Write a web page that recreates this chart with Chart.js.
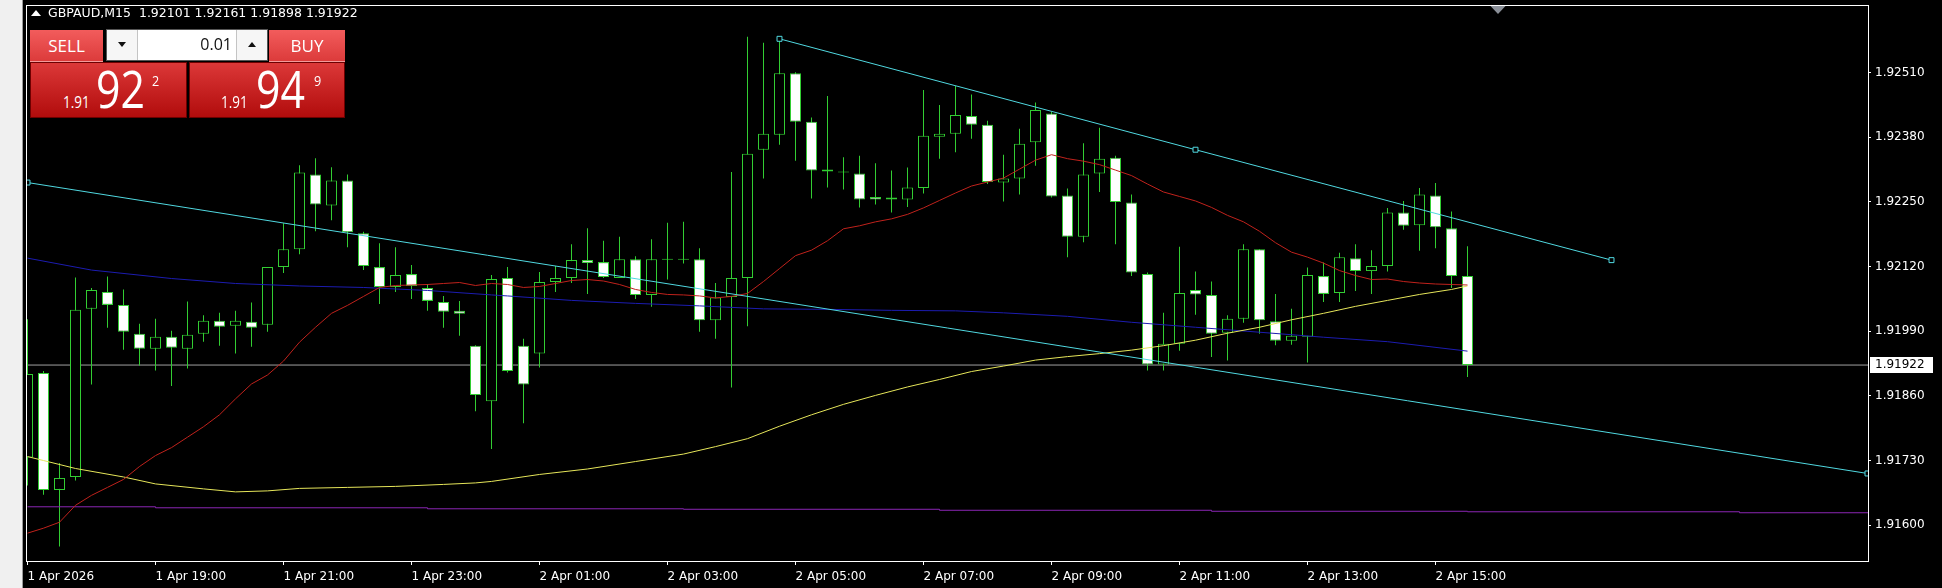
<!DOCTYPE html>
<html>
<head>
<meta charset="utf-8">
<title>GBPAUD,M15</title>
<script src="https://cdn.jsdelivr.net/npm/chart.js@4.4.1/dist/chart.umd.min.js"></script>
<style>
  html, body { margin: 0; padding: 0; background: #000; }
  body { position: relative; width: 1942px; height: 588px; overflow: hidden; }
  #c { position: absolute; left: 0; top: 0; }
  #side { position: absolute; left: 0; top: 0; width: 22px; height: 588px; background: #f0f0f0; border-right: 1px solid #9a9a9a; }
  #hdr { position: absolute; left: 31px; top: 5px; color: #fff; font: 12.5px 'DejaVu Sans', sans-serif; white-space: pre; }
  #hdr .tri { display: inline-block; width: 0; height: 0; border-left: 5px solid transparent; border-right: 5px solid transparent; border-bottom: 6px solid #fff; margin-right: 7px; vertical-align: 1px; }
  .lbl { position: absolute; top: 30px; height: 32px; box-sizing: border-box; background: linear-gradient(#f25c5c, #dc3b3b); border-bottom: 1px solid #f39a9a; color: #fff; font: 17px 'Open Sans', sans-serif; display: flex; align-items: center; justify-content: center; }
  #lot { position: absolute; left: 106px; top: 29px; width: 162px; height: 32px; box-sizing: border-box; background: #fff; border: 1px solid #555; }
  #lot .btn { position: absolute; top: 0; bottom: 0; width: 30px; background: #f6f6f6; }
  #lot .dn { left: 0; border-right: 1px solid #c4c4c4; }
  #lot .up { right: 0; border-left: 1px solid #c4c4c4; }
  #lot .btn i { position: absolute; left: 11px; top: 12px; width: 0; height: 0; border-left: 4px solid transparent; border-right: 4px solid transparent; }
  #lot .dn i { border-top: 5px solid #111; }
  #lot .up i { border-bottom: 5px solid #111; }
  #lot .val { position: absolute; left: 31px; right: 31px; top: 0; bottom: 0; text-align: right; padding-right: 4px; font: 16px 'Open Sans', sans-serif; line-height: 29px; color: #111; }
  .big { position: absolute; top: 62px; height: 56px; box-sizing: border-box; background: linear-gradient(#dc3838, #b10c0c); border: 1px solid #6e0000; color: #fff; font-family: 'Open Sans', sans-serif; }
  .big span { position: absolute; line-height: 1; transform-origin: left top; transform: scaleX(0.84); }
  .big .pre { font-size: 16px; top: 31px; }
  .big .main { font-size: 51px; top: 0px; }
  .big .sup { font-size: 15px; top: 10px; }
</style>
</head>
<body>
<canvas id="c" width="1942" height="588"></canvas>
<div id="side"></div>
<div id="hdr"><span class="tri"></span><span id="hdrText"></span></div>
<div class="lbl" style="left:30px;width:73px">SELL</div>
<div id="lot"><div class="btn dn"><i></i></div><div class="val">0.01</div><div class="btn up"><i></i></div></div>
<div class="lbl" style="left:269px;width:76px">BUY</div>
<div class="big" style="left:30px;width:157px"><span class="pre" style="left:32px">1.91</span><span class="main" style="left:65px">92</span><span class="sup" style="left:121px">2</span></div>
<div class="big" style="left:189px;width:156px"><span class="pre" style="left:31px">1.91</span><span class="main" style="left:66px">94</span><span class="sup" style="left:124px">9</span></div>
<script>
// GBPAUD M15, bar 0 = 1 Apr 17:00, one bar per 15 minutes
const symbol = 'GBPAUD,M15';

const opens = [1.91736, 1.91906, 1.91671, 1.91697, 1.92035, 1.92069, 1.92043, 1.91985, 1.91955, 1.91979,
  1.91955, 1.91985, 1.92011, 1.92001, 1.92009, 1.92003, 1.92119, 1.92155, 1.92305, 1.92243,
  1.92293, 1.92187, 1.92119, 1.92079, 1.92105, 1.92077, 1.92049, 1.92031, 1.91961, 1.91849,
  1.92097, 1.91961, 1.91945, 1.92089, 1.92097, 1.92133, 1.92129, 1.92097, 1.92135, 1.92063,
  1.92134, 1.92135, 1.92135, 1.92012, 1.92059, 1.92097, 1.92355, 1.92385, 1.92509, 1.92411,
  1.92315, 1.92311, 1.92307, 1.92260, 1.92259, 1.92255, 1.92278, 1.92381, 1.92387, 1.92423,
  1.92405, 1.92289, 1.92297, 1.92370, 1.92428, 1.92263, 1.92180, 1.92307, 1.92339, 1.92249,
  1.92105, 1.91923, 1.91965, 1.92073, 1.92063, 1.91987, 1.92015, 1.92155, 1.92010, 1.91971,
  1.91979, 1.92101, 1.92067, 1.92137, 1.92111, 1.92121, 1.92229, 1.92203, 1.92263, 1.92197,
  1.92101];
const highs = [1.92014, 1.91910, 1.91725, 1.92098, 1.92077, 1.92100, 1.92074, 1.92005, 1.92015, 1.91991,
  1.92050, 1.92022, 1.92027, 1.92031, 1.92048, 1.92119, 1.92207, 1.92324, 1.92338, 1.92320,
  1.92305, 1.92190, 1.92167, 1.92159, 1.92123, 1.92085, 1.92061, 1.92051, 1.91962, 1.92103,
  1.92119, 1.91975, 1.92109, 1.92121, 1.92165, 1.92197, 1.92172, 1.92180, 1.92141, 1.92175,
  1.92208, 1.92210, 1.92157, 1.92087, 1.92310, 1.92582, 1.92570, 1.92580, 1.92511, 1.92420,
  1.92463, 1.92340, 1.92343, 1.92328, 1.92313, 1.92319, 1.92475, 1.92445, 1.92483, 1.92466,
  1.92413, 1.92345, 1.92397, 1.92450, 1.92431, 1.92277, 1.92368, 1.92399, 1.92343, 1.92265,
  1.92108, 1.92027, 1.92160, 1.92110, 1.92090, 1.92022, 1.92165, 1.92155, 1.92065, 1.92035,
  1.92118, 1.92128, 1.92148, 1.92165, 1.92153, 1.92238, 1.92252, 1.92278, 1.92288, 1.92231,
  1.92161];
const lows = [1.91680, 1.91661, 1.91557, 1.91690, 1.91883, 1.91997, 1.91953, 1.91921, 1.91911, 1.91880,
  1.91915, 1.91969, 1.91961, 1.91945, 1.91959, 1.91989, 1.92107, 1.92145, 1.92191, 1.92213,
  1.92159, 1.92113, 1.92045, 1.92069, 1.92055, 1.92031, 1.91997, 1.91981, 1.91829, 1.91753,
  1.91907, 1.91805, 1.91917, 1.92069, 1.92087, 1.92065, 1.92097, 1.92097, 1.92055, 1.92039,
  1.92094, 1.92126, 1.91989, 1.91975, 1.91877, 1.92000, 1.92297, 1.92365, 1.92333, 1.92257,
  1.92279, 1.92275, 1.92239, 1.92245, 1.92229, 1.92240, 1.92267, 1.92337, 1.92350, 1.92377,
  1.92286, 1.92251, 1.92265, 1.92323, 1.92259, 1.92139, 1.92169, 1.92270, 1.92165, 1.92101,
  1.91911, 1.91911, 1.91951, 1.92023, 1.91938, 1.91931, 1.92007, 1.91985, 1.91962, 1.91963,
  1.91927, 1.92049, 1.92049, 1.92071, 1.92065, 1.92110, 1.92194, 1.92152, 1.92157, 1.92077,
  1.91898];
const closes = [1.91904, 1.91671, 1.91695, 1.92033, 1.92073, 1.92043, 1.91989, 1.91955, 1.91979, 1.91957,
  1.91983, 1.92011, 1.91999, 1.92011, 1.91997, 1.92119, 1.92155, 1.92309, 1.92245, 1.92293,
  1.92189, 1.92121, 1.92079, 1.92103, 1.92081, 1.92051, 1.92029, 1.92025, 1.91862, 1.92095,
  1.91910, 1.91883, 1.92089, 1.92097, 1.92133, 1.92127, 1.92099, 1.92135, 1.92063, 1.92135,
  1.92136, 1.92134, 1.92012, 1.92058, 1.92097, 1.92347, 1.92387, 1.92509, 1.92411, 1.92313,
  1.92311, 1.92309, 1.92255, 1.92255, 1.92255, 1.92279, 1.92383, 1.92387, 1.92425, 1.92405,
  1.92290, 1.92297, 1.92367, 1.92435, 1.92261, 1.92180, 1.92305, 1.92337, 1.92250, 1.92108,
  1.91923, 1.91965, 1.92067, 1.92064, 1.91985, 1.92015, 1.92155, 1.92012, 1.91971, 1.91981,
  1.92103, 1.92065, 1.92139, 1.92111, 1.92121, 1.92229, 1.92202, 1.92265, 1.92199, 1.92101,
  1.91922];

// moving averages
const redMa = [1.91584, 1.91594, 1.91606, 1.91640, 1.91660, 1.91676, 1.91692, 1.91718, 1.91740, 1.91756,
  1.91777, 1.91798, 1.91822, 1.91854, 1.91884, 1.91902, 1.91930, 1.91968, 1.91998, 1.92026,
  1.92042, 1.92060, 1.92078, 1.92082, 1.92083, 1.92084, 1.92086, 1.92088, 1.92082, 1.92086,
  1.92084, 1.92078, 1.92080, 1.92086, 1.92092, 1.92094, 1.92091, 1.92084, 1.92074, 1.92068,
  1.92064, 1.92063, 1.92061, 1.92057, 1.92060, 1.92066, 1.92090, 1.92116, 1.92142, 1.92153,
  1.92172, 1.92196, 1.92202, 1.92210, 1.92216, 1.92225, 1.92238, 1.92253, 1.92268, 1.92282,
  1.92290, 1.92298, 1.92316, 1.92334, 1.92345, 1.92337, 1.92332, 1.92325, 1.92314, 1.92303,
  1.92286, 1.92270, 1.92261, 1.92252, 1.92239, 1.92223, 1.92210, 1.92191, 1.92168, 1.92149,
  1.92139, 1.92127, 1.92112, 1.92102, 1.92094, 1.92095, 1.92090, 1.92087, 1.92085, 1.92084,
  1.92083];
const yellowBars = [0, 1, 3, 6, 8, 11, 13, 15, 17, 20, 23, 26, 28, 29, 32, 35, 38, 41, 43, 45, 47, 49,
  51, 53, 55, 57, 59, 61, 63, 65, 67, 69, 71, 73, 75, 77, 79, 81, 83, 85, 87, 89, 90];
const yellowMa = [1.91738, 1.91730, 1.91714, 1.91697, 1.91683, 1.91673, 1.91667, 1.91669, 1.91674, 1.91676,
  1.91678, 1.91682, 1.91685, 1.91688, 1.91702, 1.91713, 1.91728, 1.91743, 1.91758, 1.91774,
  1.91799, 1.91822, 1.91843, 1.91861, 1.91878, 1.91893, 1.91909, 1.91920, 1.91932, 1.91939,
  1.91945, 1.91952, 1.91961, 1.91972, 1.91986, 1.91998, 1.92013, 1.92026, 1.92040, 1.92052,
  1.92064, 1.92074, 1.92081];
const blueBars = [0, 4, 9, 13, 17, 21, 25, 29, 30, 34, 38, 42, 46, 50, 54, 58, 61, 65, 69, 73, 77, 81, 85, 90];
const blueMa = [1.92137, 1.92113, 1.92096, 1.92086, 1.92081, 1.92078, 1.92072, 1.92063, 1.92061, 1.92052,
  1.92046, 1.92041, 1.92035, 1.92034, 1.92032, 1.92031, 1.92027, 1.92020, 1.92008, 1.91998,
  1.91988, 1.91978, 1.91969, 1.91950];
const purpleBars = [0, 8, 25, 41, 57, 74, 90, 107, 116];
const purpleMa = [1.91637, 1.91635, 1.91633, 1.91632, 1.91630, 1.91628, 1.91627, 1.91625, 1.91625];

// trend lines (bar, price)
const upperTrendBars = [47, 73, 99];
const upperTrend = [1.92578, 1.92355, 1.92133];
const lowerTrendBars = [0, 115];
const lowerTrend = [1.92289, 1.91704];

const xTickBars = [0, 8, 16, 24, 32, 40, 48, 56, 64, 72, 80, 88];
const xTickLabels = ['1 Apr 2026', '1 Apr 19:00', '1 Apr 21:00', '1 Apr 23:00', '2 Apr 01:00', '2 Apr 03:00',
  '2 Apr 05:00', '2 Apr 07:00', '2 Apr 09:00', '2 Apr 11:00', '2 Apr 13:00', '2 Apr 15:00'];
const yTicks = [1.91600, 1.91730, 1.91860, 1.91990, 1.92120, 1.92250, 1.92380, 1.92510];

const last = closes.length - 1;
const shiftBar = 92;
const green = '#32cd32';
const cyan = '#50d8e0';
const axisFont = { family: 'DejaVu Sans', size: 12 };

document.getElementById('hdrText').textContent =
  symbol + '  ' + [opens[last], highs[last], lows[last], closes[last]].map(v => v.toFixed(5)).join(' ');

const barIndex = closes.map((_, i) => i);
const pts = (xs, ys) => xs.map((x, i) => ({ x, y: ys[i] }));

function lineSet(label, xs, ys, color, order, extra) {
  return Object.assign({
    type: 'line', label, data: pts(xs, ys), borderColor: color, borderWidth: 1,
    pointRadius: 0, tension: 0, order, clip: 0
  }, extra || {});
}
const markers = { pointRadius: 3.5, pointStyle: 'rect', pointBackgroundColor: '#000', pointBorderColor: cyan, pointBorderWidth: 1 };

// kill the label overflow padding so the plot area keeps the terminal's frame
function noPad(s) {
  s.paddingTop = 0; s.paddingBottom = 0; s.paddingLeft = 0; s.paddingRight = 0;
}

const frame = {
  id: 'frame',
  afterDraw(chart) {
    const { ctx, chartArea: a, scales: { x, y } } = chart;
    ctx.save();
    ctx.strokeStyle = '#ffffff';
    ctx.lineWidth = 1;
    ctx.strokeRect(a.left + 0.5, a.top + 0.5, a.right - a.left, a.bottom - a.top);
    // chart shift marker
    const sx = Math.round(x.getPixelForValue(shiftBar - 0.1));
    ctx.fillStyle = '#8a8f98';
    ctx.beginPath();
    ctx.moveTo(sx - 7.5, a.top + 1);
    ctx.lineTo(sx + 7.5, a.top + 1);
    ctx.lineTo(sx, a.top + 9);
    ctx.closePath();
    ctx.fill();
    // last price tag
    const py = Math.round(y.getPixelForValue(closes[last]));
    ctx.fillStyle = '#ffffff';
    ctx.fillRect(a.right + 2, py - 8, 63, 16);
    ctx.fillStyle = '#000000';
    ctx.font = '12px "DejaVu Sans"';
    ctx.textBaseline = 'middle';
    ctx.fillText(closes[last].toFixed(5), a.right + 7, py);
    ctx.restore();
  }
};

new Chart(document.getElementById('c').getContext('2d'), {
  type: 'bar',
  data: {
    datasets: [
      lineSet('upper trend', upperTrendBars, upperTrend, cyan, 0, markers),
      lineSet('lower trend', lowerTrendBars, lowerTrend, cyan, 0, markers),
      lineSet('ma red', barIndex, redMa, '#c0221c', 1),
      lineSet('ma yellow', yellowBars, yellowMa, '#e6e65a', 2),
      lineSet('ma blue', blueBars, blueMa, '#1c1cb0', 3),
      lineSet('ma purple', purpleBars, purpleMa, '#8b26b4', 4, { stepped: true }),
      {
        type: 'bar', label: 'body',
        data: barIndex.map(i => ({ x: i, y: [opens[i], closes[i]] })),
        backgroundColor: barIndex.map(i => closes[i] >= opens[i] ? '#000000' : '#ffffff'),
        borderColor: green, borderWidth: 1, borderSkipped: false,
        barThickness: 11, grouped: false, inflateAmount: 0, minBarLength: 1, order: 10, clip: 0
      },
      {
        type: 'bar', label: 'wick',
        data: barIndex.map(i => ({ x: i, y: [lows[i], highs[i]] })),
        backgroundColor: green, borderWidth: 0,
        barThickness: 1, grouped: false, inflateAmount: 0, order: 11, clip: 0
      },
      lineSet('price', [-2, 117], [closes[last], closes[last]], '#a0a0a0', 12)
    ]
  },
  options: {
    responsive: false,
    animation: false,
    devicePixelRatio: 1,
    events: [],
    layout: { padding: { left: 26, top: 2, right: 0, bottom: 0 } },
    plugins: { legend: { display: false }, tooltip: { enabled: false } },
    scales: {
      x: {
        type: 'linear', position: 'bottom', offset: false,
        min: -0.09375, max: 115.03125,
        afterFit: s => { s.height = 27; noPad(s); },
        afterBuildTicks: s => { s.ticks = xTickBars.map(v => ({ value: v })); },
        ticks: {
          callback: (v, i) => xTickLabels[i], color: '#ffffff', font: axisFont,
          align: 'start', maxRotation: 0, autoSkip: false, padding: 5
        },
        grid: { drawOnChartArea: false, offset: false, color: '#ffffff', tickLength: 4 },
        border: { display: false }
      },
      y: {
        type: 'linear', position: 'right',
        min: 1.91528, max: 1.92646,
        afterFit: s => { s.width = 74; noPad(s); },
        afterBuildTicks: s => { s.ticks = yTicks.map(v => ({ value: v })); },
        ticks: { callback: v => v.toFixed(5), color: '#ffffff', font: axisFont, padding: 4 },
        grid: { drawOnChartArea: false, color: '#ffffff', tickLength: 3 },
        border: { display: false }
      }
    }
  },
  plugins: [frame]
});
</script>
</body>
</html>
